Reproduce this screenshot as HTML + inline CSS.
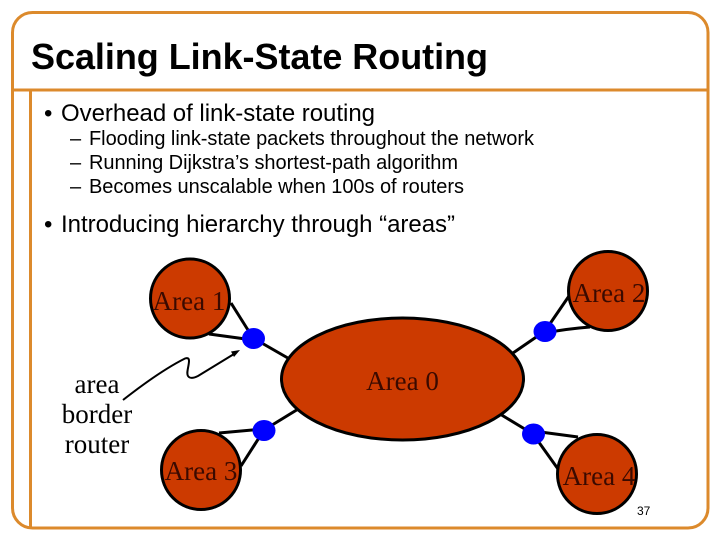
<!DOCTYPE html>
<html>
<head>
<meta charset="utf-8">
<style>
html,body{margin:0;padding:0;background:#fff;}
body{width:720px;height:540px;overflow:hidden;position:relative;}
svg{position:absolute;left:0;top:0;}
</style>
</head>
<body>
<svg width="720" height="540" viewBox="0 0 720 540" xmlns="http://www.w3.org/2000/svg">
  <!-- frame -->
  <rect x="12.500" y="12.500" width="695.500" height="515.500" rx="20" ry="20" fill="#fff" stroke="#DC8A2C" stroke-width="3"/>
  <line x1="12" y1="90" x2="708" y2="90" stroke="#DC8A2C" stroke-width="3"/>
  <line x1="30.500" y1="90" x2="30.500" y2="528" stroke="#DC8A2C" stroke-width="3"/>

  <!-- title and bullets -->
  <text x="31" y="69" font-family="Liberation Sans, sans-serif" font-size="36" font-weight="bold" fill="#000" textLength="457">Scaling Link-State Routing</text>
  <g font-family="Liberation Sans, sans-serif" fill="#000">
    <text x="44" y="121" font-size="24">•</text>
    <text x="61" y="121" font-size="24" textLength="314">Overhead of link-state routing</text>
    <text x="70" y="145" font-size="20">–</text>
    <text x="89" y="145" font-size="20" textLength="445">Flooding link-state packets throughout the network</text>
    <text x="70" y="169" font-size="20">–</text>
    <text x="89" y="169" font-size="20" textLength="369">Running Dijkstra’s shortest-path algorithm</text>
    <text x="70" y="193" font-size="20">–</text>
    <text x="89" y="193" font-size="20" textLength="375">Becomes unscalable when 100s of routers</text>
    <text x="44" y="232" font-size="24">•</text>
    <text x="61" y="232" font-size="24" textLength="394">Introducing hierarchy through “areas”</text>
    <text x="637" y="515" font-size="12">37</text>
  </g>

  <!-- connectors -->
  <g stroke="#000" stroke-width="3" fill="none">
    <line x1="231" y1="303" x2="253" y2="338"/>
    <line x1="209" y1="334" x2="253" y2="340"/>
    <line x1="253" y1="338" x2="300" y2="365"/>
    <line x1="569" y1="296" x2="545" y2="331"/>
    <path d="M545 333 Q565 329 590 327"/>
    <line x1="545" y1="331" x2="500" y2="362"/>
    <line x1="264" y1="430" x2="308" y2="403"/>
    <line x1="264" y1="429" x2="219" y2="433"/>
    <line x1="264" y1="430" x2="241" y2="466"/>
    <line x1="533" y1="434" x2="500" y2="414"/>
    <line x1="533" y1="431" x2="578" y2="437"/>
    <line x1="533" y1="434" x2="558" y2="469"/>
  </g>

  <!-- areas -->
  <g fill="#CC3A00" stroke="#000" stroke-width="3">
    <circle cx="190" cy="298.500" r="39.500"/>
    <circle cx="608" cy="291" r="39.500"/>
    <circle cx="201" cy="470" r="39.500"/>
    <circle cx="597" cy="474" r="39.500"/>
    <ellipse cx="402.500" cy="379" rx="121" ry="61"/>
  </g>

  <!-- routers -->
  <g fill="#0000FF">
    <ellipse cx="253.500" cy="338.500" rx="11.500" ry="10.500"/>
    <ellipse cx="545" cy="331.500" rx="11.500" ry="10.500"/>
    <ellipse cx="264" cy="430.500" rx="11.500" ry="10.500"/>
    <ellipse cx="533.500" cy="434" rx="11.500" ry="10.500"/>
  </g>

  <!-- arrow -->
  <path d="M123 400 Q160 371 185 358.500 Q189 357 189 361 C189 366 186 373 188 376 C190 379 194 378 198 376 L234 354" fill="none" stroke="#000" stroke-width="2"/>
  <polygon points="240,350 231,351.500 234,357" fill="#000"/>

  <!-- labels -->
  <g font-family="Liberation Serif, serif" font-size="27" fill="#000" text-anchor="middle">
    <text x="97" y="393">area</text>
    <text x="97" y="423">border</text>
    <text x="97" y="453">router</text>
  </g>
  <g font-family="Liberation Serif, serif" font-size="27" fill="#3a0a00" text-anchor="middle">
    <text x="189" y="310">Area 1</text>
    <text x="609" y="302">Area 2</text>
    <text x="201" y="480">Area 3</text>
    <text x="599" y="485">Area 4</text>
    <text x="402.500" y="390">Area 0</text>
  </g>
</svg>
</body>
</html>
